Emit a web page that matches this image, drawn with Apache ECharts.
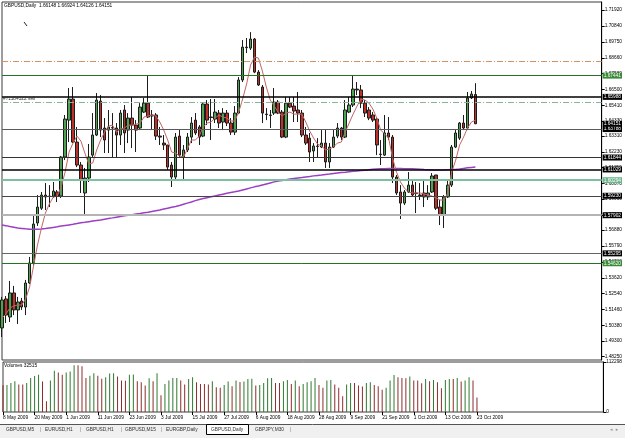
<!DOCTYPE html>
<html><head><meta charset="utf-8">
<script src="https://cdn.jsdelivr.net/npm/echarts@6/dist/echarts.min.js"></script>
<style>html,body{margin:0;padding:0;background:#fff}#c{width:625px;height:438px}</style>
</head><body><div id="c"></div>
<script>
// ---- data ----
const openP = [
1.5020,1.5218,1.5095,1.5259,1.5143,1.5204,1.5163,1.5327,1.5464,1.5737,
1.5838,1.5928,1.5921,1.5921,1.5949,1.5921,1.6188,1.6440,1.6584,1.6290,
1.6133,1.5942,1.6044,1.6201,1.6338,1.6570,1.6386,1.6372,1.6386,1.6386,
1.6338,1.6509,1.6372,1.6454,1.6406,1.6386,1.6495,1.6556,1.6475,1.6475,
1.6331,1.6283,1.6270,1.6133,1.6051,1.6331,1.6188,1.6236,1.6324,1.6440,
1.6393,1.6331,1.6550,1.6461,1.6447,1.6488,1.6427,1.6488,1.6420,1.6358,
1.6488,1.6714,1.6939,1.6932,1.6994,1.6768,1.6666,1.6481,1.6475,1.6488,
1.6563,1.6495,1.6324,1.6556,1.6536,1.6509,1.6488,1.6338,1.6317,1.6229,
1.6263,1.6256,1.6283,1.6154,1.6256,1.6331,1.6386,1.6324,1.6495,1.6543,
1.6652,1.6646,1.6556,1.6509,1.6475,1.6447,1.6208,1.6201,1.6352,1.6324,
1.6051,1.5949,1.5873,1.5949,1.5996,1.5942,1.5928,1.5942,1.5915,1.5949,
1.6065,1.5846,1.5791,1.5915,1.5996,1.6256,1.6317,1.6420,1.6386,1.6591,
1.66148];
const highP = [
1.5232,1.5238,1.5341,1.5307,1.5232,1.5225,1.5348,1.5505,1.5798,1.5928,
1.5949,1.6010,1.5996,1.6017,1.5962,1.6195,1.6475,1.6659,1.6666,1.6393,
1.6154,1.6113,1.6277,1.6488,1.6625,1.6611,1.6454,1.6509,1.6488,1.6420,
1.6509,1.6543,1.6488,1.6598,1.6440,1.6556,1.6591,1.6744,1.6509,1.6488,
1.6393,1.6338,1.6270,1.6154,1.6352,1.6372,1.6270,1.6352,1.6461,1.6488,
1.6406,1.6556,1.6577,1.6584,1.6584,1.6509,1.6522,1.6509,1.6454,1.6536,
1.6734,1.6987,1.7001,1.7041,1.7001,1.6782,1.6680,1.6522,1.6509,1.6659,
1.6577,1.6509,1.6598,1.6598,1.6598,1.6632,1.6509,1.6393,1.6352,1.6283,
1.6317,1.6372,1.6372,1.6283,1.6372,1.6420,1.6393,1.6577,1.6598,1.6744,
1.6700,1.6680,1.6577,1.6529,1.6495,1.6454,1.6304,1.6475,1.6461,1.6338,
1.6065,1.5996,1.5962,1.6085,1.6031,1.6017,1.6010,1.6031,1.5996,1.6078,
1.6065,1.5894,1.5928,1.6031,1.6270,1.6372,1.6427,1.6475,1.6632,1.6639,
1.66924];
const lowP = [
1.4958,1.5054,1.5061,1.5108,1.5047,1.5143,1.5108,1.5320,1.5450,1.5717,
1.5826,1.5826,1.5846,1.5908,1.5880,1.5908,1.6167,1.6290,1.6283,1.6119,
1.5942,1.5791,1.6017,1.6188,1.6331,1.6324,1.6215,1.6215,1.6181,1.6181,
1.6270,1.6215,1.6283,1.6249,1.6222,1.6372,1.6488,1.6454,1.6372,1.6304,
1.6270,1.6236,1.6099,1.5983,1.6031,1.6181,1.6031,1.6222,1.6283,1.6338,
1.6270,1.6324,1.6406,1.6304,1.6420,1.6386,1.6372,1.6399,1.6338,1.6338,
1.6481,1.6700,1.6898,1.6919,1.6761,1.6673,1.6420,1.6440,1.6386,1.6475,
1.6481,1.6317,1.6317,1.6522,1.6427,1.6427,1.6324,1.6270,1.6154,1.6154,
1.6188,1.6249,1.6113,1.6113,1.6249,1.6317,1.6304,1.6317,1.6488,1.6529,
1.6611,1.6522,1.6461,1.6440,1.6427,1.6201,1.6133,1.6195,1.6304,1.6010,
1.5928,1.5764,1.5860,1.5942,1.5915,1.5805,1.5894,1.5846,1.5894,1.5942,
1.5826,1.5723,1.5703,1.5908,1.5983,1.6249,1.6304,1.6372,1.6372,1.6584,
1.64126];
const closeP = [
1.5211,1.5108,1.5259,1.5143,1.5197,1.5163,1.5327,1.5464,1.5730,1.5846,
1.5928,1.5915,1.5918,1.5955,1.5921,1.6188,1.6447,1.6584,1.6290,1.6133,
1.6031,1.6044,1.6188,1.6338,1.6577,1.6372,1.6304,1.6393,1.6389,1.6338,
1.6488,1.6352,1.6454,1.6406,1.6372,1.6529,1.6556,1.6461,1.6468,1.6331,
1.6324,1.6270,1.6119,1.6051,1.6324,1.6201,1.6236,1.6324,1.6420,1.6352,
1.6324,1.6550,1.6440,1.6458,1.6495,1.6420,1.6488,1.6420,1.6358,1.6488,
1.6714,1.6939,1.6935,1.6994,1.6768,1.6680,1.6488,1.6478,1.6472,1.6563,
1.6488,1.6324,1.6556,1.6529,1.6502,1.6488,1.6338,1.6283,1.6222,1.6263,
1.6260,1.6283,1.6154,1.6256,1.6324,1.6386,1.6324,1.6509,1.6543,1.6652,
1.6646,1.6556,1.6488,1.6454,1.6440,1.6270,1.6205,1.6352,1.6324,1.6051,
1.5942,1.5873,1.5949,1.5996,1.5928,1.5938,1.5925,1.5915,1.5942,1.6058,
1.5838,1.5791,1.5915,1.5996,1.6256,1.6352,1.6420,1.6386,1.6591,1.6618,
1.64151];
const maFast = [
1.5088,1.5115,1.5156,1.5170,1.5177,1.5177,1.5218,1.5300,1.5443,1.5587,
1.5703,1.5805,1.5867,1.5914,1.5921,1.5983,1.6085,1.6222,1.6283,1.6331,
1.6297,1.6215,1.6140,1.6147,1.6236,1.6304,1.6358,1.6399,1.6406,1.6358,
1.6379,1.6386,1.6406,1.6406,1.6413,1.6420,1.6461,1.6468,1.6475,1.6468,
1.6427,1.6372,1.6304,1.6222,1.6215,1.6195,1.6188,1.6242,1.6304,1.6304,
1.6331,1.6393,1.6420,1.6427,1.6454,1.6475,1.6461,1.6454,1.6434,1.6434,
1.6495,1.6584,1.6686,1.6816,1.6871,1.6864,1.6775,1.6666,1.6577,1.6536,
1.6495,1.6468,1.6488,1.6495,1.6481,1.6481,1.6481,1.6427,1.6365,1.6317,
1.6276,1.6263,1.6236,1.6242,1.6256,1.6283,1.6290,1.6358,1.6420,1.6481,
1.6536,1.6584,1.6577,1.6557,1.6516,1.6454,1.6372,1.6345,1.6317,1.6181,
1.6085,1.6017,1.5976,1.5949,1.5942,1.5942,1.5942,1.5935,1.5928,1.5921,
1.5908,1.5894,1.5894,1.5942,1.6085,1.6167,1.6270,1.6324,1.6386,1.6427,
1.6440];
const maSlow = [
1.5724,1.5719,1.5713,1.5708,1.5703,1.5700,1.5697,1.5695,1.5694,1.5694,
1.5696,1.5699,1.5703,1.5707,1.5711,1.5716,1.5720,1.5724,1.5728,1.5733,
1.5739,1.5742,1.5746,1.5750,1.5754,1.5758,1.5763,1.5768,1.5772,1.5777,
1.5782,1.5786,1.5790,1.5794,1.5798,1.5802,1.5807,1.5811,1.5816,1.5821,
1.5826,1.5832,1.5838,1.5844,1.5850,1.5857,1.5865,1.5873,1.5881,1.5890,
1.5898,1.5904,1.5910,1.5916,1.5922,1.5928,1.5934,1.5940,1.5945,1.5950,
1.5956,1.5963,1.5970,1.5977,1.5984,1.5990,1.5997,1.6004,1.6011,1.6018,
1.6024,1.6028,1.6033,1.6037,1.6041,1.6045,1.6048,1.6052,1.6055,1.6059,
1.6062,1.6065,1.6069,1.6072,1.6076,1.6079,1.6082,1.6084,1.6087,1.6090,
1.6092,1.6095,1.6098,1.6101,1.6104,1.6106,1.6107,1.6108,1.6109,1.6109,
1.6109,1.6109,1.6108,1.6108,1.6107,1.6106,1.6104,1.6102,1.6101,1.6100,
1.6099,1.6099,1.6100,1.6101,1.6102,1.6103,1.6106,1.6110,1.6114,1.6117,
1.6120];
const volumes = [
60000,60900,65300,69000,61700,61600,65300,76300,80700,83700,
68300,24200,70500,92500,88800,83700,88800,91000,105000,104900,
102800,76300,81500,87300,81500,74900,77800,86600,87000,80000,
70500,70400,83700,84000,69000,66800,59500,75600,69000,87300,
37400,63100,70500,76300,76500,70500,61700,74100,77800,66800,
63100,63000,62000,69000,55800,54300,60900,68300,58000,70500,
67500,68300,74100,74900,59500,60900,65300,75600,76300,65300,
65300,69000,71900,63100,70500,58000,63100,66800,69000,76300,
60900,54300,70500,71900,61700,54300,35200,61700,65300,65300,
59500,57300,65300,66800,60900,58000,49900,54300,70500,82900,
77800,76300,75600,80000,70500,70500,64600,74100,69000,71900,
66800,53600,71900,74100,74100,76300,68300,70500,77800,70500,
32515];
// horizontal price levels drawn on the chart
const levelPrices = [1.6844, 1.67441, 1.65988, 1.6564, 1.63788, 1.61844, 1.61029, 1.60294, 1.59230, 1.57902, 1.55295, 1.54620];
const bidPrice = 1.64151;
const priceTicks = [1.71920,1.70840,1.69750,1.68660,1.67580,1.66500,1.65410,1.64330,1.63310,1.62230,1.61150,1.60070,1.59000,1.57920,1.56880,1.55790,1.54710,1.53620,1.52540,1.51460,1.50380,1.49300,1.48250];
const volumeTicks = [0, 112298];
const tickDates = ['8 May 2009','20 May 2009','1 Jun 2009','11 Jun 2009','23 Jun 2009','3 Jul 2009','15 Jul 2009','27 Jul 2009','6 Aug 2009','18 Aug 2009','28 Aug 2009','9 Sep 2009','21 Sep 2009','1 Oct 2009','13 Oct 2009','23 Oct 2009'];
const headerText = 'GBPUSD,Daily  1.66148 1.66924 1.64126 1.64151';
const volumeText = 'Volumes 32515';
const orderText = '#71184322 sell';

// ---- categories: weekday trading days + empty right margin ----
const MONTHS = ['Jan','Feb','Mar','Apr','May','Jun','Jul','Aug','Sep','Oct','Nov','Dec'];
const cats = [];
{
  const d = new Date(Date.UTC(2009, 4, 8));
  while (cats.length < openP.length) {
    const wd = d.getUTCDay();
    if (wd !== 0 && wd !== 6) cats.push(d.getUTCDate() + ' ' + MONTHS[d.getUTCMonth()] + ' ' + d.getUTCFullYear());
    d.setUTCDate(d.getUTCDate() + 1);
  }
  for (let k = 0; cats.length < 153; k++) cats.push('pad' + k);
}
const ohlc = openP.map((o, i) => [o, closeP[i], lowP[i], highP[i]]);

const FONT = 'Liberation Sans';
const FS = 4.8;
const showIdx = (idx) => idx % 8 === 0 && idx / 8 < tickDates.length;

const levelStyles = [
  {color:'#cf9566', width:1, type:[6,2,1,2], box:null},
  {color:'#267326', width:1, type:'solid', box:'#3a8a3a'},
  {color:'#000000', width:1.6, type:'solid', box:'#000'},
  {color:'#86b596', width:1, type:[6,2,1,2], box:null, text: orderText},
  {color:'#5a5a5a', width:1.2, type:'solid', box:'#000'},
  {color:'#333333', width:1.2, type:'solid', box:'#000'},
  {color:'#000000', width:1.5, type:'solid', box:'#000'},
  {color:'#7dbf9e', width:2, type:'solid', box:'#6db58e'},
  {color:'#444444', width:1.2, type:'solid', box:'#000'},
  {color:'#b4b4b4', width:2, type:'solid', box:'#000'},
  {color:'#666666', width:1.2, type:'solid', box:'#000'},
  {color:'#267326', width:1, type:'solid', box:'#3a8a3a'}
];
const markData = levelPrices.map((p, i) => {
  const s = levelStyles[i];
  const item = { yAxis: p, lineStyle: { color: s.color, width: s.width, type: s.type } };
  if (s.box) {
    item.label = { show: true, position: 'end', distance: 1, formatter: p.toFixed(5), color: '#fff',
      backgroundColor: s.box, fontSize: FS, fontFamily: FONT, padding: [1, 1, 0, 1] };
  } else if (s.text) {
    item.label = { show: true, position: 'insideStartTop', distance: 1, formatter: s.text, color: '#333',
      fontSize: FS, fontFamily: FONT };
  } else {
    item.label = { show: false };
  }
  return item;
});
markData.push({ yAxis: bidPrice, lineStyle: { color: 'rgba(0,0,0,0)', width: 1 },
  label: { show: true, position: 'end', distance: 1, formatter: bidPrice.toFixed(5), color: '#fff',
    backgroundColor: '#000', fontSize: FS, fontFamily: FONT, padding: [1, 1, 0, 1] } });

const tabs = [
  {t:'GBPUSD,M5', x:6}, {t:'EURUSD,H1', x:45}, {t:'GBPUSD,H1', x:86}, {t:'GBPUSD,M15', x:125},
  {t:'EURGBP,Daily', x:166}, {t:'GBPUSD,Daily', x:211}, {t:'GBPJPY,M30', x:255}
];
const seps = [40, 80, 121, 161, 290];
const graphics = [
  {type:'rect', shape:{x:0, y:424, width:625, height:14}, style:{fill:'#f0f0f0'}, silent:true},
  {type:'line', shape:{x1:0, y1:424.5, x2:625, y2:424.5}, style:{stroke:'#555', lineWidth:1}, silent:true},
  {type:'rect', shape:{x:206.5, y:424.5, width:42, height:10}, style:{fill:'#fff', stroke:'#000', lineWidth:1}, silent:true},
  {type:'line', shape:{x1:24, y1:22, x2:27, y2:26}, style:{stroke:'#222', lineWidth:1}, silent:true}
];
tabs.forEach(tb => graphics.push({type:'text', x:tb.x, y:430, style:{text:tb.t, fill:'#333', font: FS + 'px "' + FONT + '"', textVerticalAlign:'middle'}, silent:true}));
seps.forEach(sx => graphics.push({type:'text', x:sx, y:430, style:{text:'|', fill:'#777', font: FS + 'px "' + FONT + '"', textVerticalAlign:'middle'}, silent:true}));
graphics.push({type:'text', x:610, y:430, style:{text:'\u25C2  \u25B8', fill:'#999', font:'5px "DejaVu Sans"', textVerticalAlign:'middle'}, silent:true});

const chart = echarts.init(document.getElementById('c'), null, {renderer:'canvas'});
chart.setOption({
  animation: false,
  backgroundColor: '#fff',
  textStyle: { fontFamily: FONT },
  title: [
    { text: headerText, left: 4, top: 3, padding: 0, textStyle: { fontSize: FS, fontWeight: 'normal', color: '#000', fontFamily: FONT } },
    { text: volumeText, left: 4, top: 363, padding: 0, textStyle: { fontSize: FS, fontWeight: 'normal', color: '#000', fontFamily: FONT } }
  ],
  grid: [
    { left: 2, top: 2, width: 603, height: 358, show: true, borderColor: '#3a3a3a', borderWidth: 1, backgroundColor: 'transparent' },
    { left: 2, top: 362, width: 603, height: 50, show: true, borderColor: '#3a3a3a', borderWidth: 1, backgroundColor: 'transparent' }
  ],
  xAxis: [
    { type: 'category', gridIndex: 0, data: cats, boundaryGap: false,
      axisLine: { show: false }, axisTick: { show: false }, axisLabel: { show: false }, splitLine: { show: false } },
    { type: 'category', gridIndex: 1, data: cats, boundaryGap: false,
      axisLine: { show: false },
      axisTick: { show: true, interval: showIdx, length: 3, lineStyle: { color: '#000' } },
      axisLabel: { show: true, interval: showIdx, fontSize: FS, color: '#000', align: 'left', margin: 3, fontFamily: FONT,
        formatter: (v, idx) => tickDates[idx / 8] || '' },
      splitLine: { show: false } }
  ],
  yAxis: [
    { type: 'value', gridIndex: 0, position: 'right', min: 1.4801, max: 1.7247, scale: true,
      axisLine: { show: true, lineStyle: { color: '#000' } },
      axisTick: { show: true, length: 3, customValues: priceTicks, lineStyle: { color: '#000' } },
      axisLabel: { show: true, customValues: priceTicks, fontSize: FS, color: '#000', margin: 3, fontFamily: FONT,
        formatter: v => v.toFixed(5) },
      splitLine: { show: false } },
    { type: 'value', gridIndex: 1, position: 'right', min: 0, max: 112298,
      axisLine: { show: true, lineStyle: { color: '#000' } },
      axisTick: { show: true, length: 3, customValues: volumeTicks, lineStyle: { color: '#000' } },
      axisLabel: { show: true, customValues: volumeTicks, fontSize: FS, color: '#000', margin: 3, fontFamily: FONT,
        formatter: v => String(v) },
      splitLine: { show: false } }
  ],
  series: [
    { type: 'candlestick', xAxisIndex: 0, yAxisIndex: 0, data: ohlc, barWidth: 3,
      itemStyle: { color: '#4fa24f', color0: '#bf3028', borderColor: '#1c1c1c', borderColor0: '#1c1c1c', borderWidth: 1 },
      markLine: { symbol: 'none', silent: true, animation: false, precision: 5, data: markData } },
    { type: 'line', xAxisIndex: 0, yAxisIndex: 0, data: maSlow, symbol: 'none', silent: true,
      lineStyle: { color: '#9b3fc4', width: 1.5 }, z: 3 },
    { type: 'line', xAxisIndex: 0, yAxisIndex: 0, data: maFast, symbol: 'none', silent: true,
      lineStyle: { color: '#c26666', width: 1 }, z: 4 },
    { type: 'bar', xAxisIndex: 1, yAxisIndex: 1, barWidth: 1, silent: true,
      data: volumes.map((v, i) => ({ value: v, itemStyle: { color: (i > 0 && v > volumes[i - 1]) ? '#2e7a2e' : '#8e2c2c' } })) }
  ],
  graphic: graphics
});
</script></body></html>
